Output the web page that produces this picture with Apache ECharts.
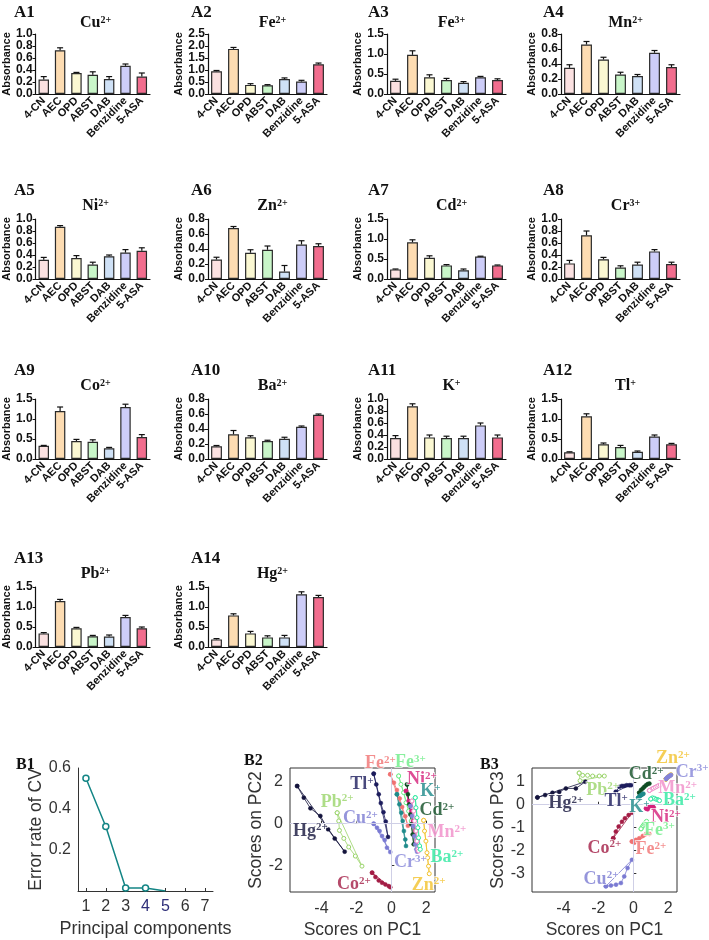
<!DOCTYPE html>
<html><head><meta charset="utf-8">
<script src="https://cdn.jsdelivr.net/npm/echarts@6/dist/echarts.min.js"></script>
<style>html,body{margin:0;padding:0;background:#fff}#c{width:709px;height:940px}</style>
</head><body><div id="c"></div>
<script>
// ---------- DATA: bar panels ----------
const reagents = ['4-CN','AEC','OPD','ABST','DAB','Benzidine','5-ASA'];
const cuMean = [0.24,0.73,0.35,0.32,0.25,0.47,0.29];
const cuErr  = [0.05,0.04,0.01,0.05,0.04,0.03,0.06];
const fe2Mean = [0.95,1.88,0.38,0.36,0.62,0.52,1.24];
const fe2Err  = [0.03,0.06,0.05,0.03,0.05,0.05,0.05];
const fe3Mean = [0.33,0.98,0.42,0.35,0.28,0.42,0.35];
const fe3Err  = [0.04,0.10,0.06,0.04,0.03,0.02,0.03];
const mnMean = [0.35,0.66,0.46,0.26,0.24,0.55,0.36];
const mnErr  = [0.04,0.04,0.03,0.03,0.02,0.03,0.03];
const niMean = [0.32,0.87,0.35,0.24,0.38,0.44,0.47];
const niErr  = [0.04,0.02,0.04,0.04,0.02,0.05,0.05];
const znMean = [0.26,0.68,0.35,0.39,0.10,0.46,0.44];
const znErr  = [0.03,0.02,0.04,0.05,0.08,0.05,0.03];
const cdMean = [0.24,0.92,0.53,0.34,0.22,0.56,0.34];
const cdErr  = [0.01,0.06,0.05,0.02,0.03,0.01,0.01];
const crMean = [0.26,0.73,0.33,0.19,0.24,0.46,0.25];
const crErr  = [0.05,0.07,0.03,0.03,0.04,0.03,0.03];
const coMean = [0.33,1.20,0.45,0.43,0.27,1.30,0.55];
const coErr  = [0.01,0.10,0.04,0.05,0.02,0.07,0.06];
const baMean = [0.17,0.33,0.29,0.24,0.27,0.43,0.59];
const baErr  = [0.01,0.05,0.02,0.01,0.02,0.01,0.01];
const kMean = [0.35,0.88,0.36,0.35,0.35,0.56,0.36];
const kErr  = [0.04,0.04,0.04,0.03,0.03,0.04,0.04];
const tlMean = [0.17,1.07,0.37,0.30,0.18,0.56,0.37];
const tlErr  = [0.01,0.06,0.03,0.04,0.02,0.04,0.02];
const pbMean = [0.34,1.15,0.47,0.27,0.26,0.75,0.47];
const pbErr  = [0.02,0.04,0.02,0.02,0.04,0.04,0.03];
const hgMean = [0.19,0.79,0.34,0.24,0.24,1.32,1.25];
const hgErr  = [0.02,0.04,0.05,0.04,0.05,0.06,0.04];

// ---------- DATA: B1 ----------
const pcs = [1,2,3,4,5,6,7];
const cvError = [0.55,0.315,0.015,0.015,0];

// ---------- DATA: B2 (PC1, PC2) ----------
const b2Hg = [[-5.39,1.79],[-5.01,1.24],[-4.63,0.73],[-4.06,0.37],[-3.62,-0.27],[-3.24,-0.71],[-2.67,-1.33]];
const b2Tl = [[-1.01,2.38],[-0.86,1.87],[-0.72,1.40],[-0.60,0.98],[-0.45,0.55],[-0.32,0.10],[-0.19,-0.63]];
const b2Cu = [[-1.01,0.0],[-0.82,-0.19],[-0.67,-0.35],[-0.53,-0.59],[-0.38,-0.78],[-0.25,-1.14],[-0.06,-1.35]];
const b2Pb = [[-3.10,0.52],[-3.01,0.13],[-2.97,-0.32],[-2.72,-0.70],[-2.44,-1.11],[-2.06,-1.54],[-1.68,-2.02]];
const b2Co = [[-1.10,-2.33],[-0.91,-2.54],[-0.72,-2.70],[-0.53,-2.81],[-0.34,-2.89],[-0.15,-2.97],[-0.06,-3.02]];
const b2Fe2 = [[-0.06,2.35],[0.15,1.95],[0.32,1.60],[0.48,1.20],[0.62,0.80],[0.80,0.35],[0.95,-0.10]];
const b2Fe3 = [[0.42,2.27],[0.55,1.87],[0.70,1.48],[0.84,1.00],[0.99,0.60],[1.14,0.13],[1.37,-0.35]];
const b2Ni = [[0.84,1.56],[0.99,1.08],[1.14,0.60],[1.24,0.13],[1.37,-0.35],[1.47,-0.83],[1.56,-1.22]];
const b2K = [[0.32,1.40],[0.46,0.92],[0.57,0.52],[0.65,0.13],[0.72,-0.35],[0.80,-0.75],[0.84,-1.06]];
const b2Cd = [[0.90,1.87],[0.95,1.40],[1.03,0.92],[1.09,0.44],[1.14,-0.03],[1.22,-0.51],[1.28,-0.98]];
const b2Mn = [[1.18,1.08],[1.28,0.60],[1.33,0.13],[1.41,-0.35],[1.47,-0.83],[1.52,-1.22],[1.56,-1.30]];
const b2Ba = [[1.37,1.24],[1.41,0.76],[1.47,0.29],[1.52,-0.19],[1.56,-0.67],[1.62,-1.06],[1.66,-1.22]];
const b2Cr = [[1.09,0.84],[1.18,0.37],[1.24,-0.11],[1.31,-0.59],[1.37,-0.98],[1.43,-1.22],[1.47,-1.33]];
const b2Zn = [[1.85,0.16],[1.90,-0.35],[1.98,-0.83],[2.04,-1.38],[2.08,-1.62],[2.13,-2.02],[2.17,-2.38]];

// ---------- DATA: B3 (PC1, PC3) ----------
const b3Hg = [[-5.49,0.32],[-5.05,0.42],[-4.63,0.52],[-4.24,0.56],[-3.86,0.71],[-3.29,0.71],[-2.75,1.0]];
const b3Pb = [[-3.10,1.38],[-2.90,1.28],[-2.62,1.28],[-2.33,1.25],[-1.95,1.25],[-1.66,1.25],[-3.05,1.05]];
const b3Tl = [[-1.0,0.56],[-0.80,0.78],[-0.65,0.82],[-0.52,0.82],[-0.38,0.85],[-0.23,0.85],[-0.13,0.85]];
const b3Co = [[-1.15,-1.46],[-1.0,-1.17],[-0.84,-0.95],[-0.65,-0.74],[-0.48,-0.59],[-0.27,-0.45],[-0.08,-0.35]];
const b3Cu = [[-1.57,-3.55],[-1.28,-3.52],[-0.99,-3.48],[-0.71,-3.41],[-0.52,-3.12],[-0.33,-2.76],[-0.08,-2.40]];
const b3Cd = [[0.34,0.52],[0.44,0.64],[0.54,0.71],[0.63,0.78],[0.73,0.85],[0.82,0.90],[0.92,0.92]];
const b3Mn = [[0.92,0.62],[1.05,0.68],[1.15,0.72],[1.25,0.76],[1.35,0.80],[1.45,0.84],[1.55,0.86]];
const b3Cr = [[1.87,1.12],[1.92,1.17],[1.97,1.20],[2.02,1.23],[2.07,1.25],[2.12,1.27],[2.16,1.30]];
const b3Zn = [[1.85,1.10],[1.90,1.14],[1.96,1.18],[2.00,1.22],[2.05,1.25],[2.10,1.28],[2.15,1.31]];
const b3K = [[0.28,0.30],[0.33,0.34],[0.38,0.38],[0.43,0.41],[0.48,0.44],[0.53,0.46],[0.58,0.48]];
const b3Ba = [[1.0,0.25],[1.1,0.30],[1.2,0.28],[1.3,0.24],[1.4,0.22],[1.45,0.20],[1.5,0.18]];
const b3Ni = [[0.73,-0.16],[0.82,-0.12],[0.92,-0.09],[1.01,-0.06],[1.11,-0.06],[1.17,-0.12],[0.82,-0.20]];
const b3Fe3 = [[0.44,-1.05],[0.50,-0.98],[0.56,-0.91],[0.62,-0.85],[0.68,-0.80],[0.72,-0.76],[0.76,-0.72]];
const b3Fe2 = [[-0.08,-1.60],[0.15,-1.53],[0.34,-1.46],[0.54,-1.36],[0.73,-1.27],[0.92,-1.27],[0.06,-1.65]];

// label anchors (data units) for B2 / B3 annotations
const b2Labels = [['Fe','2+',-0.63,2.86],['Fe','3+',1.09,2.9],['Tl','+',-1.68,1.87],['Ni','2+',1.75,2.11],['K','+',2.23,1.52],['Cd','2+',2.61,0.63],['Pb','2+',-3.10,1.03],['Cu','2+',-1.77,0.25],['Hg','2+',-4.63,-0.35],['Mn','2+',3.18,-0.43],['Ba','2+',3.18,-1.62],['Cr','3+',1.09,-1.86],['Co','2+',-2.15,-2.89],['Zn','2+',2.13,-2.92]];
const b3Labels = [['Zn','2+',2.26,2.0],['Cr','3+',3.37,1.43],['Cd','2+',0.73,1.33],['Mn','2+',2.54,0.71],['Pb','2+',-1.76,0.64],['Hg','2+',-3.86,0.06],['Tl','+',-0.99,0.13],['K','+',0.34,-0.12],['Ba','2+',2.64,0.17],['Ni','2+',1.87,-0.55],['Fe','3+',1.49,-1.1],['Co','2+',-1.66,-1.89],['Fe','2+',1.01,-1.94],['Cu','2+',-1.85,-3.23]];

// ---------- STYLE ----------
const barColors = ['#fbe1e1','#fddcb2','#fbf8d2','#c9f6c9','#cfe1f6','#cdcdf8','#f26d8e'];
const ionColor = {Hg:'#14143c',Tl:'#1c1c5c',Cu:'#7a7ad2',Pb:'#9ad46a',Co:'#a31d45',Fe2:'#f07272',Fe3:'#6cec86',Ni:'#d4207a',K:'#1e8a8a',Cd:'#0f4d24',Mn:'#f08cc8',Ba:'#2ee8a0',Cr:'#8484d8',Zn:'#f2c22c'};
const hollow = {Pb:true,Fe3:true,Zn:true,Ba:true,Mn:true};
const SERIF = 'Liberation Serif';
const SANS = 'Liberation Sans';

const panels = [
  ['A1','Cu','2+',cuMean,cuErr,1.0,0.2],
  ['A2','Fe','2+',fe2Mean,fe2Err,2.5,0.5],
  ['A3','Fe','3+',fe3Mean,fe3Err,1.5,0.5],
  ['A4','Mn','2+',mnMean,mnErr,0.8,0.2],
  ['A5','Ni','2+',niMean,niErr,1.0,0.2],
  ['A6','Zn','2+',znMean,znErr,0.8,0.2],
  ['A7','Cd','2+',cdMean,cdErr,1.5,0.5],
  ['A8','Cr','3+',crMean,crErr,1.0,0.2],
  ['A9','Co','2+',coMean,coErr,1.5,0.5],
  ['A10','Ba','2+',baMean,baErr,0.8,0.2],
  ['A11','K','+',kMean,kErr,1.0,0.2],
  ['A12','Tl','+',tlMean,tlErr,1.5,0.5],
  ['A13','Pb','2+',pbMean,pbErr,1.5,0.5],
  ['A14','Hg','2+',hgMean,hgErr,1.5,0.5]
];
const colLeft = [31,208,387,561];
const labelLeft = [9,186,363,538];
const rowTop = [34,219,399,587];
const plotW = 119, plotH = 60;

const supRich = (size, color) => {
  const b = {fontFamily:SERIF,fontWeight:'bold',fontSize:size,lineHeight:size,verticalAlign:'bottom'};
  const s = {fontFamily:SERIF,fontWeight:'bold',fontSize:Math.round(size*0.6),lineHeight:Math.round(size*0.45),verticalAlign:'top'};
  if (color) { b.color = color; s.color = color; }
  return {b, s};
};

const grid=[], xAxis=[], yAxis=[], series=[], title=[];

function errRender(params, api){
  const i = api.value(0), v = api.value(1), e = api.value(2);
  const p0 = api.coord([i, v]); const p1 = api.coord([i, v+e]);
  const hw = 3;
  return {type:'group', children:[
    {type:'line', shape:{x1:p0[0],y1:p0[1],x2:p1[0],y2:p1[1]}, style:{stroke:'#111',lineWidth:1.2}},
    {type:'line', shape:{x1:p1[0]-hw,y1:p1[1],x2:p1[0]+hw,y2:p1[1]}, style:{stroke:'#111',lineWidth:1.2}}
  ]};
}

panels.forEach((p, k) => {
  const [lab, el, ch, mean, err, max, step] = p;
  const r = Math.floor(k/4), c = k%4;
  const left = colLeft[c], top = rowTop[r];
  grid.push({left:left, top:top, width:plotW, height:plotH});
  xAxis.push({type:'category', gridIndex:k, data:reagents,
    axisLine:{lineStyle:{color:'#111',width:1.2}}, axisTick:{show:false},
    axisLabel:{rotate:45, interval:0, margin:5, color:'#111', fontFamily:SANS, fontWeight:'bold', fontSize:11}});
  yAxis.push({type:'value', gridIndex:k, min:0, max:max, interval:step,
    name:'Absorbance', nameLocation:'middle', nameGap:20, nameRotate:90,
    nameTextStyle:{fontFamily:SANS,fontWeight:'bold',fontSize:11,color:'#111'},
    axisLine:{show:true,lineStyle:{color:'#111',width:1.2}}, axisTick:{show:true,length:3,lineStyle:{color:'#111'}},
    splitLine:{show:false},
    axisLabel:{margin:3,color:'#111',fontFamily:SANS,fontWeight:'bold',fontSize:12,formatter:v=>v.toFixed(1)}});
  series.push({type:'bar', xAxisIndex:k, yAxisIndex:k, barWidth:'64%',
    data: mean.map((v,i)=>({value:v, itemStyle:{color:barColors[i]}})),
    itemStyle:{borderColor:'#2a2a2a', borderWidth:1.2}});
  series.push({type:'custom', xAxisIndex:k, yAxisIndex:k, z:5, renderItem:errRender,
    encode:{x:0,y:1}, data: mean.map((v,i)=>[i, v, err[i]])});
  title.push({text:lab, left:labelLeft[c], top:rowTop[r]-(r===0?35:42),
    textStyle:{fontFamily:SERIF,fontWeight:'bold',fontSize:17,color:'#111'}});
  title.push({text:'{b|'+el+'}{s|'+ch+'}', left:left+plotW/2, textAlign:'center', top:rowTop[r]-(r===0?24:26),
    textStyle:{color:'#111', rich:supRich(16,'#111')}});
});

// ---------- B panels ----------
const B1 = 14, B2 = 15, B3 = 16;
const tickFont = {fontFamily:SANS, fontSize:16, color:'#333'};
const nameFont = {fontFamily:SANS, fontSize:17.5, color:'#333'};
grid.push({left:78, top:768, width:135, height:123});
grid.push({left:290, top:768, width:145, height:124, show:true, borderColor:'#333', borderWidth:1});
grid.push({left:532, top:768, width:145, height:124, show:true, borderColor:'#333', borderWidth:1});

xAxis.push({type:'value', gridIndex:B1, min:0.6, max:7.4,
  name:'Principal components', nameLocation:'middle', nameGap:29, nameTextStyle:{fontFamily:SANS, fontSize:18, color:'#333'},
  axisLine:{show:true,lineStyle:{color:'#333'}}, splitLine:{show:false},
  axisTick:{show:true, inside:true, length:3, customValues:pcs, lineStyle:{color:'#333'}},
  axisLabel:{customValues:pcs, margin:8, fontFamily:SANS, fontSize:16, color:(v)=>(Number(v)===4||Number(v)===5)?'#2e2e78':'#333'}});
yAxis.push({type:'value', gridIndex:B1, min:0, max:0.6,
  name:'Error rate of CV', nameLocation:'middle', nameGap:33, nameTextStyle:{fontFamily:SANS, fontSize:17.5, color:'#333'},
  axisLine:{show:true,lineStyle:{color:'#333'}}, splitLine:{show:false},
  axisTick:{show:false, customValues:[0.2,0.4,0.6]},
  axisLabel:Object.assign({customValues:[0.2,0.4,0.6], margin:7, formatter:v=>Number(v).toFixed(1)}, tickFont)});
series.push({type:'line', xAxisIndex:B1, yAxisIndex:B1,
  data: cvError.map((v,i)=>({value:[pcs[i], v], symbolSize: i<4?6:0})),
  symbol:'circle', lineStyle:{color:'#138585', width:1.5},
  itemStyle:{color:'#fff', borderColor:'#138585', borderWidth:1.5}});

function pcaAxes(gi, yName, yTicks, ymin, ymax){
  xAxis.push({type:'value', gridIndex:gi, min:-5.8, max:2.5,
    name:'Scores on PC1', nameLocation:'middle', nameGap:29, nameTextStyle:nameFont,
    axisLine:{show:false}, splitLine:{show:false},
    axisTick:{show:true, inside:true, length:3, customValues:[-4,-2,0,2], lineStyle:{color:'#333'}},
    axisLabel:Object.assign({customValues:[-4,-2,0,2], margin:9}, tickFont)});
  yAxis.push({type:'value', gridIndex:gi, min:ymin, max:ymax,
    name:yName, nameLocation:'middle', nameGap:21, nameTextStyle:nameFont,
    axisLine:{show:false}, splitLine:{show:false},
    axisTick:{show:true, inside:true, length:3, customValues:yTicks, lineStyle:{color:'#333'}},
    axisLabel:Object.assign({customValues:yTicks, margin:7}, tickFont)});
}
pcaAxes(B2, 'Scores on PC2', [-2,0,2], -3.25, 2.65);
pcaAxes(B3, 'Scores on PC3', [-3,-2,-1,0,1], -3.8, 1.6);

function zeroLines(gi){
  series.push({type:'line', xAxisIndex:gi, yAxisIndex:gi, data:[], silent:true,
    markLine:{silent:true, symbol:'none', label:{show:false},
      lineStyle:{color:'#cfcfe6', type:'solid', width:1},
      data:[{xAxis:0},{yAxis:0}]}});
}
zeroLines(B2); zeroLines(B3);

function ionSeries(gi, key, pts){
  const c = ionColor[key];
  series.push({type:'line', xAxisIndex:gi, yAxisIndex:gi, data: pts.concat([pts[0]]),
    symbol:'circle', symbolSize:4, lineStyle:{color:c, width:0.8},
    itemStyle: hollow[key] ? {color:'#fff', borderColor:c, borderWidth:1} : {color:c, borderColor:c, borderWidth:0.5}});
}
[['Hg',b2Hg],['Tl',b2Tl],['Cu',b2Cu],['Pb',b2Pb],['Co',b2Co],['Fe2',b2Fe2],['Fe3',b2Fe3],['K',b2K],['Ni',b2Ni],['Cd',b2Cd],['Cr',b2Cr],['Mn',b2Mn],['Ba',b2Ba],['Zn',b2Zn]]
  .forEach(([k,p])=>ionSeries(B2,k,p));
[['Hg',b3Hg],['Pb',b3Pb],['Tl',b3Tl],['Co',b3Co],['Cu',b3Cu],['Cd',b3Cd],['Mn',b3Mn],['Zn',b3Zn],['Cr',b3Cr],['K',b3K],['Ba',b3Ba],['Ni',b3Ni],['Fe3',b3Fe3],['Fe2',b3Fe2]]
  .forEach(([k,p])=>ionSeries(B3,k,p));

function labelSeries(gi, labels){
  series.push({type:'scatter', xAxisIndex:gi, yAxisIndex:gi, symbolSize:0, clip:false, z:10, silent:true,
    data: labels.map(([el,ch,x,y])=>{
      const key = el==='Fe' ? (ch==='2+'?'Fe2':'Fe3') : el;
      return {value:[x,y], label:{color:ionColor[key], formatter:'{b|'+el+'}{s|'+ch+'}'}};
    }),
    label:{show:true, position:'inside', textBorderColor:'rgba(255,255,255,0.85)', textBorderWidth:2, rich:supRich(18)}});
}
labelSeries(B2, b2Labels);
labelSeries(B3, b3Labels);

title.push({text:'B1', left:11, top:752, textStyle:{fontFamily:SERIF,fontWeight:'bold',fontSize:16,color:'#111'}});
title.push({text:'B2', left:239, top:748, textStyle:{fontFamily:SERIF,fontWeight:'bold',fontSize:16,color:'#111'}});
title.push({text:'B3', left:475, top:752, textStyle:{fontFamily:SERIF,fontWeight:'bold',fontSize:16,color:'#111'}});

const chart = echarts.init(document.getElementById('c'), null, {renderer:'canvas'});
chart.setOption({animation:false, backgroundColor:'#fff', title, grid, xAxis, yAxis, series});
</script></body></html>
